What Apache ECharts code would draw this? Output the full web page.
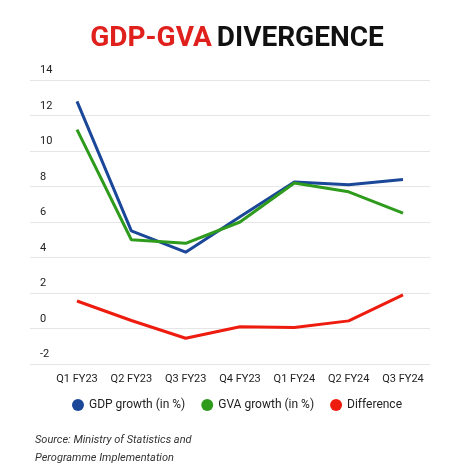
<!DOCTYPE html>
<html><head><meta charset="utf-8">
<script src="https://cdn.jsdelivr.net/npm/echarts@6/dist/echarts.min.js"></script>
<style>html,body{margin:0;padding:0;background:#fff}#c{width:474px;height:474px}</style>
</head><body><div id="c"></div>
<script>
const categories = ['Q1 FY23','Q2 FY23','Q3 FY23','Q4 FY23','Q1 FY24','Q2 FY24','Q3 FY24'];
const gdp = [12.8, 5.5, 4.3, 6.3, 8.25, 8.1, 8.4];
const gva = [11.2, 5.0, 4.8, 6.0, 8.2, 7.7, 6.5];
const diff = [1.55, 0.45, -0.55, 0.1, 0.05, 0.43, 1.9];
const yTicks = [-2, 0, 2, 4, 6, 8, 10, 12, 14];

const chart = echarts.init(document.getElementById('c'));
const Y = {min: yTicks[0], max: yTicks[yTicks.length-1], interval: 2};
chart.setOption({
  backgroundColor: '#fff',
  animation: false,
  title: {
    text: '{r|GDP-GVA} {b|DIVERGENCE}', left: 'center', top: 20,
    textStyle: {rich: {
      r: {color: '#e0201c', fontSize: 28, fontWeight: 'bold', fontFamily: 'Liberation Sans Narrow, Roboto'},
      b: {color: '#111', fontSize: 28, fontWeight: 'bold', fontFamily: 'Liberation Sans Narrow, Roboto'}
    }}
  },
  legend: {
    bottom: 58, left: 'center', icon: 'circle', itemWidth: 12, itemHeight: 12, itemGap: 16,
    textStyle: {fontSize: 12, color: '#222', fontFamily: 'Roboto'},
    data: ['GDP growth (in %)', 'GVA growth (in %)', 'Difference']
  },
  graphic: [{
    type: 'text', left: 35, top: 431,
    style: {text: 'Source: Ministry of Statistics and\nPerogramme Implementation', font: 'italic 11px Roboto', fill: '#333', lineHeight: 18}
  }],
  grid: [
    {left: 30, right: 44, top: 80, bottom: 110},
    {left: 77, right: 71, top: 80, bottom: 110}
  ],
  xAxis: [
    {gridIndex: 0, type: 'category', data: categories, show: false},
    {gridIndex: 1, type: 'category', data: categories, boundaryGap: false,
     axisLine: {show: false}, axisTick: {show: false},
     axisLabel: {color: '#222', fontSize: 11, fontFamily: 'Roboto', margin: 10, interval: 0}}
  ],
  yAxis: [
    Object.assign({gridIndex: 0, type: 'value',
      axisLine: {show: false}, axisTick: {show: false},
      splitLine: {lineStyle: {color: '#e6e6e6'}},
      axisLabel: {inside: true, verticalAlign: 'bottom', color: '#222', fontSize: 11, fontFamily: 'Roboto', padding: [0,0,4,2]}}, Y),
    Object.assign({gridIndex: 1, type: 'value', show: false}, Y)
  ],
  series: [
    {name: 'GDP growth (in %)', type: 'line', xAxisIndex: 1, yAxisIndex: 1, data: gdp, symbol: 'none', color: '#1b4799', lineStyle: {width: 3}},
    {name: 'GVA growth (in %)', type: 'line', xAxisIndex: 1, yAxisIndex: 1, data: gva, symbol: 'none', color: '#2e9b1c', lineStyle: {width: 3}},
    {name: 'Difference', type: 'line', xAxisIndex: 1, yAxisIndex: 1, data: diff, symbol: 'none', color: '#ee1c0e', lineStyle: {width: 3}}
  ]
});
</script></body></html>
